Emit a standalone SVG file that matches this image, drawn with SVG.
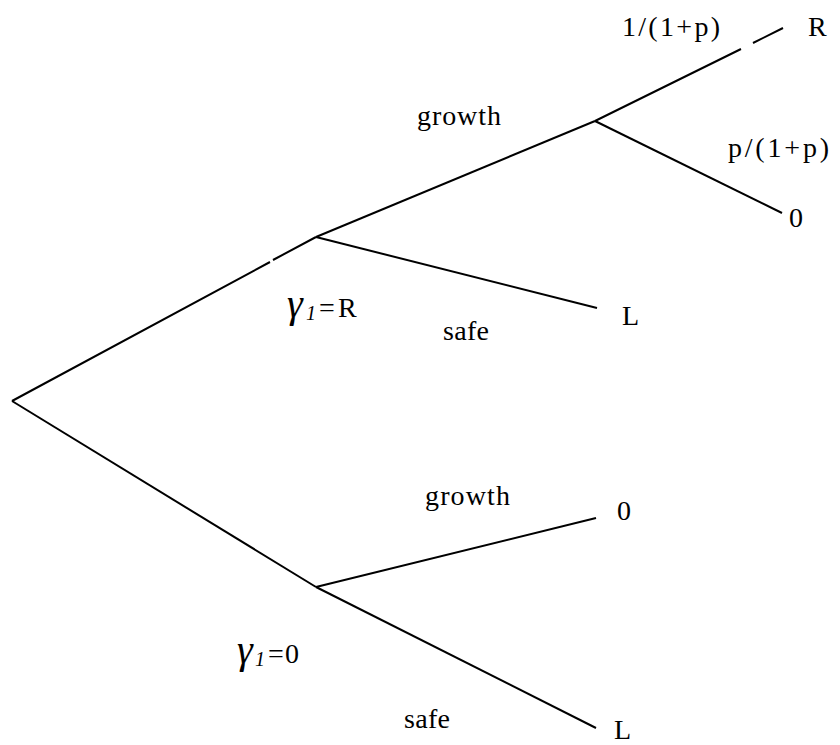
<svg xmlns="http://www.w3.org/2000/svg" width="840" height="745" viewBox="0 0 840 745">
<style>
.e{stroke:#000;stroke-width:2;fill:none;stroke-linecap:butt}
.t{font-family:"Liberation Serif",serif;font-size:28px;fill:#000}
.g{font-family:"Liberation Serif",serif;font-style:italic;font-size:40px;fill:#000}
.s{font-family:"Liberation Serif",serif;font-style:italic;font-size:20px;fill:#000}
</style>
<rect width="840" height="745" fill="#fff"/>
<g id="connectors">
<path class="e" d="M12,401 L270,262 M273,260 L316,237"/>
<path class="e" d="M12,401 L316,587"/>
<path class="e" d="M316,237 L595,121"/>
<path class="e" d="M316,237 L597,308"/>
<path class="e" d="M595,121 L741,49 M753,43 L783,28"/>
<path class="e" d="M595,121 L782,213"/>
<path class="e" d="M316,587 L596,518"/>
<path class="e" d="M316,587 L596,728"/>
</g>
<g id="node-upper">
<text y="317"><tspan class="g" x="287">γ</tspan><tspan class="s" x="306" dy="3">1</tspan><tspan class="t" x="319" dy="-3">=</tspan><tspan class="t" x="338">R</tspan></text>
</g>
<g id="node-lower">
<text y="663"><tspan class="g" x="237">γ</tspan><tspan class="s" x="255" dy="3">1</tspan><tspan class="t" x="268" dy="-3">=</tspan><tspan class="t" x="285">0</tspan></text>
</g>
<g id="labels">
<text class="t" x="417" y="125" textLength="84" lengthAdjust="spacing">growth</text>
<text class="t" x="443" y="340" textLength="46" lengthAdjust="spacing">safe</text>
<text class="t" x="425" y="505" textLength="85" lengthAdjust="spacing">growth</text>
<text class="t" x="404" y="728" textLength="46" lengthAdjust="spacing">safe</text>
<text class="t" x="622" y="36" textLength="98" lengthAdjust="spacing">1/(1+p)</text>
<text class="t" x="728" y="157" textLength="101" lengthAdjust="spacing">p/(1+p)</text>
</g>
<g id="leaf-R"><text class="t" x="808" y="36">R</text></g>
<g id="leaf-0a"><text class="t" x="789" y="227">0</text></g>
<g id="leaf-La"><text class="t" x="622" y="325">L</text></g>
<g id="leaf-0b"><text class="t" x="617" y="520">0</text></g>
<g id="leaf-Lb"><text class="t" x="614" y="739">L</text></g>
</svg>
